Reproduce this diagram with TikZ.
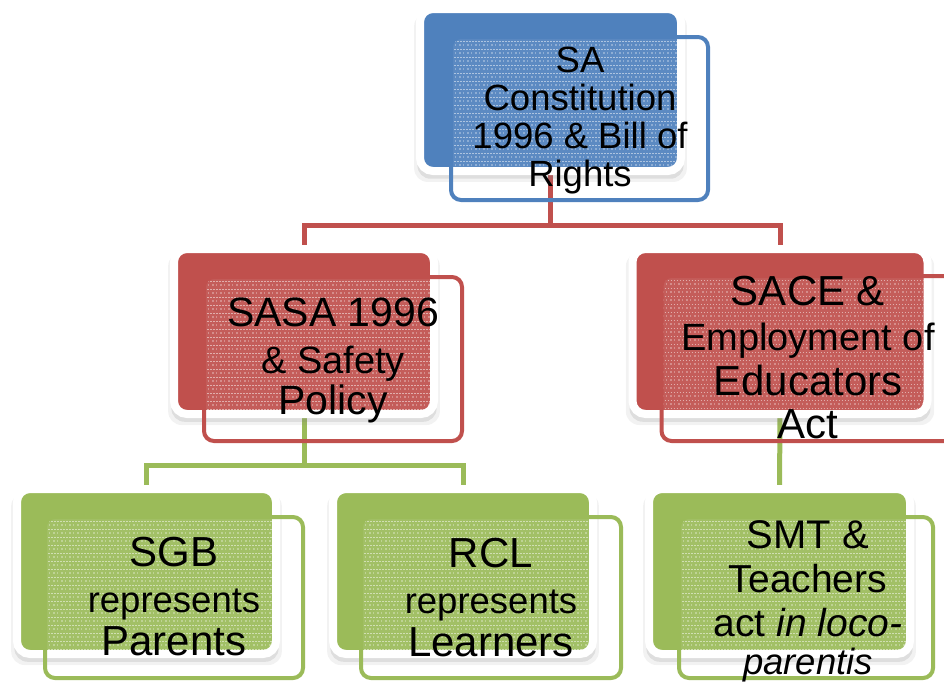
\documentclass[tikz,border=0pt]{standalone}
\usepackage{fontspec}
\setmainfont{Liberation Sans}
\definecolor{boxblue}{HTML}{4F81BD}
\definecolor{boxred}{HTML}{C0504D}
\definecolor{boxgreen}{HTML}{9BBB59}
\usetikzlibrary{shadows,backgrounds}
\tikzstyle{fillBox} = [
 rectangle,
 draw = white,
 line width = 8pt,
 rounded corners = 13pt,
 outer sep = 0pt,
 inner sep = 0pt,
 drop shadow = {opacity = .10, shadow xshift = 0pt, shadow yshift = -7pt, shadow scale = 1.045},
 drop shadow = {opacity = .18, shadow xshift = 0pt, shadow yshift = -6pt, shadow scale = 1.02}
]
\tikzstyle{frameBox} = [
 rectangle,
 line width = 4pt,
 rounded corners = 10pt,
 outer sep = 0pt,
 inner sep = 0pt
]
\tikzstyle{boxText} = [
 align = center,
 inner sep = 0pt
]
\tikzstyle{link} = [
 line width = 5pt
]
\newcommand{\boxTexture}[2]{%
  \begin{scope}
    \clip [rounded corners=8pt] ([shift={(4,4)}]#1.north west) rectangle ([shift={(-4,-4)}]#1.south east);
    \clip [rounded corners=10pt] (#2.north west) rectangle (#2.south east);
    \fill [white, opacity=.08] (#2.north west) rectangle (#1.south east);
    \foreach \row in {0,...,20} {
      \draw [white, opacity=.5, line width=1pt, dash pattern=on 1.5pt off 1.5pt]
        ([yshift=-\row*8pt-4pt]#2.north west) -- ++(330,0);
      \draw [white, opacity=.3, line width=2.5pt, dash pattern=on 2pt off 2pt on 1pt off 3pt]
        ([yshift=-\row*8pt-8pt]#2.north west) -- ++(330,0);
    }
  \end{scope}}

\begin{document}
\begin{tikzpicture}[x=1pt, y=-1pt]
  \useasboundingbox (0,0) rectangle (944,681);

  % boxes
  \node [fillBox, fill=boxblue, minimum width=261pt, minimum height=162pt] (sa) at (550.5,90) {};
  \node [fillBox, fill=boxred, minimum width=260pt, minimum height=165pt] (sasa) at (304,331.5) {};
  \node [fillBox, fill=boxred, minimum width=295pt, minimum height=165pt] (sace) at (780,331.5) {};
  \node [fillBox, fill=boxgreen, minimum width=259pt, minimum height=165pt] (sgb) at (146.5,571.5) {};
  \node [fillBox, fill=boxgreen, minimum width=260pt, minimum height=165pt] (rcl) at (463,571.5) {};
  \node [fillBox, fill=boxgreen, minimum width=261pt, minimum height=165pt] (smt) at (779.5,571.5) {};

  \node [frameBox, minimum width=257pt, minimum height=163pt] (saFrame) at (579.5,118.5) {};
  \node [frameBox, minimum width=258pt, minimum height=164pt] (sasaFrame) at (333,359) {};
  \node [frameBox, minimum width=295pt, minimum height=165pt] (saceFrame) at (809,358.5) {};
  \node [frameBox, minimum width=258pt, minimum height=161pt] (sgbFrame) at (174,597.5) {};
  \node [frameBox, minimum width=260pt, minimum height=161pt] (rclFrame) at (491,597.5) {};
  \node [frameBox, minimum width=254pt, minimum height=161pt] (smtFrame) at (806,597.5) {};

  \boxTexture{sa}{saFrame}
  \boxTexture{sasa}{sasaFrame}
  \boxTexture{sace}{saceFrame}
  \boxTexture{sgb}{sgbFrame}
  \boxTexture{rcl}{rclFrame}
  \boxTexture{smt}{smtFrame}

  \draw [frameBox, boxblue] (saFrame.north west) rectangle (saFrame.south east);
  \draw [frameBox, boxred] (sasaFrame.north west) rectangle (sasaFrame.south east);
  \draw [frameBox, boxred] (saceFrame.north west) rectangle (saceFrame.south east);
  \draw [frameBox, boxgreen] (sgbFrame.north west) rectangle (sgbFrame.south east);
  \draw [frameBox, boxgreen] (rclFrame.north west) rectangle (rclFrame.south east);
  \draw [frameBox, boxgreen] (smtFrame.north west) rectangle (smtFrame.south east);

  % texts
  \node [boxText, font=\fontsize{36.5}{38}\selectfont] (saText) at (580,121)
    {SA\\Constitution\\1996 \& Bill of\\Rights};
  \node [boxText, font=\fontsize{41}{40}\selectfont] (sasaText) at (333,360)
    {SASA 1996\\[7pt]{\fontsize{38}{40}\selectfont \& Safety}\\[1pt]Policy};
  \node [boxText, font=\fontsize{42}{44}\selectfont] (saceText) at (808,358)
    {SACE \&\\[1pt]{\fontsize{38}{44}\selectfont Employment of}\\[1pt]Educators\\[-1pt]Act};
  \node [boxText, font=\fontsize{42}{44}\selectfont] (sgbText) at (174,597)
    {SGB\\[2pt]{\fontsize{36.5}{44}\selectfont represents}\\[-1pt]Parents};
  \node [boxText, font=\fontsize{42}{44}\selectfont] (rclText) at (491,598)
    {RCL\\[2pt]{\fontsize{36.5}{44}\selectfont represents}\\[-1pt]Learners};
  \node [boxText, font=\fontsize{40}{40}\selectfont] (smtText) at (808,601)
    {SMT \&\\[4pt]{\fontsize{39}{40}\selectfont Teachers}\\[4pt]{\fontsize{39}{40}\selectfont act \textit{in loco-}}\\[-2pt]{\fontsize{36.5}{40}\selectfont\itshape parentis}};

  % connectors
  \begin{scope}[on background layer]
    \coordinate (saBus) at (550.5,225);
    \coordinate (sasaBus) at (304,465);
    \draw [link, boxred] (sa.south) -- (saBus) -| (sasa.north);
    \draw [link, boxred] (saBus) -| (sace.north);
    \draw [link, boxgreen] (sasa.south) -- (sasaBus) -| (sgb.north);
    \draw [link, boxgreen] (sasaBus) -| (rcl.north);
    \draw [link, boxgreen] (sace.south) -- (smt.north);
  \end{scope}
\end{tikzpicture}
\end{document}
